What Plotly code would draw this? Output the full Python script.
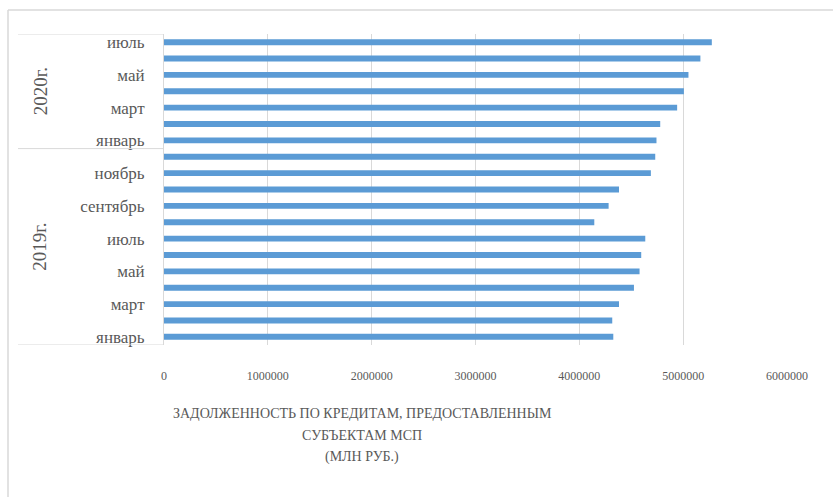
"""
Задолженность по кредитам, предоставленным субъектам МСП, 2019-2020 (млн руб.)
"""
import plotly.graph_objects as go

MONTHS_2019 = ["январь", "февраль", "март", "апрель", "май", "июнь", "июль",
               "август", "сентябрь", "октябрь", "ноябрь", "декабрь"]
MONTHS_2020 = ["январь", "февраль", "март", "апрель", "май", "июнь", "июль"]
YEARS = ["2019г.", "2020г."]

DEBT_2019 = [4327000, 4317000, 4382000, 4526000, 4580000, 4596000, 4635000,
             4144000, 4282000, 4382000, 4689000, 4731000]
DEBT_2020 = [4743000, 4779000, 4942000, 5007000, 5051000, 5166000, 5276000]

X_TICKS = [0, 1000000, 2000000, 3000000, 4000000, 5000000, 6000000]

TITLE_LINES = ["ЗАДОЛЖЕННОСТЬ ПО КРЕДИТАМ, ПРЕДОСТАВЛЕННЫМ", "СУБЪЕКТАМ МСП", "(МЛН РУБ.)"]

TEXT_COLOR = "#595959"
FONT = "Times New Roman, Liberation Serif, serif"

W, H = 833, 497
L, R, T, B = 164, 46, 34, 152
PW, PH = W - L - R, H - T - B


def px_x(p):
    return (p - L) / PW


def px_y(p):
    return (H - B - p) / PH


def build_chart() -> go.Figure:
    months = MONTHS_2019 + MONTHS_2020
    cats = [f"{m} {YEARS[0]}" for m in MONTHS_2019] + [f"{m} {YEARS[1]}" for m in MONTHS_2020]
    values = DEBT_2019 + DEBT_2020

    fig = go.Figure()
    fig.add_trace(go.Bar(
        x=values,
        y=cats,
        orientation="h",
        width=0.36,
        marker=dict(color="#5b9bd5", line=dict(width=0)),
        hovertemplate="%{y}<br>%{x}<extra></extra>",
    ))

    # group dividers on the category axis
    for yv in [-0.5, len(MONTHS_2019) - 0.5, len(cats) - 0.5]:
        fig.add_shape(type="line", xref="paper", yref="y",
                      x0=px_x(18), x1=0, y0=yv, y1=yv,
                      line=dict(color="#d9d9d9", width=1))

    # year labels
    year_pos = [(len(MONTHS_2019) - 1) / 2, len(MONTHS_2019) + (len(MONTHS_2020) - 1) / 2]
    for yr, yp in zip(YEARS, year_pos):
        fig.add_annotation(text=yr, xref="paper", yref="y",
                           x=px_x(40), y=yp, textangle=-90,
                           xanchor="center", yanchor="middle",
                           showarrow=False, font=dict(size=19, color=TEXT_COLOR, family=FONT))

    # chart frame (top and left edges visible)
    fig.add_shape(type="line", xref="paper", yref="paper",
                  x0=px_x(8), x1=px_x(W), y0=px_y(10), y1=px_y(10),
                  line=dict(color="#d9d9d9", width=1.5))
    fig.add_shape(type="line", xref="paper", yref="paper",
                  x0=px_x(8), x1=px_x(8), y0=px_y(10), y1=px_y(H),
                  line=dict(color="#d9d9d9", width=1.5))

    # axis title, one line per annotation to keep Excel-like line spacing
    for i, line in enumerate(TITLE_LINES):
        fig.add_annotation(
            text=line, xref="paper", yref="paper",
            x=px_x(362), y=px_y(413 + 22 * i),
            xanchor="center", yanchor="middle", showarrow=False,
            font=dict(size=14, color=TEXT_COLOR, family=FONT),
        )

    fig.update_layout(
        width=W, height=H,
        margin=dict(l=L, r=R, t=T, b=B),
        plot_bgcolor="white", paper_bgcolor="white",
        showlegend=False,
        font=dict(family=FONT, color=TEXT_COLOR),
        xaxis=dict(range=[0, 6000000], tickvals=X_TICKS, tickformat="d",
                   showgrid=True, gridcolor="#d9d9d9", gridwidth=1,
                   zeroline=False, showline=False, ticks="",
                   ticklabelstandoff=22, automargin=False,
                   tickfont=dict(size=12, color=TEXT_COLOR, family=FONT)),
        yaxis=dict(categoryorder="array", categoryarray=cats,
                   range=[-0.5, len(cats) - 0.5],
                   tickvals=cats[::2], ticktext=months[::2],
                   showline=True, linecolor="#d9d9d9", linewidth=1,
                   showgrid=False, zeroline=False, ticks="",
                   ticklabelstandoff=15, automargin=False,
                   tickfont=dict(size=17, color=TEXT_COLOR, family=FONT)),
    )
    return fig


if __name__ == "__main__":
    fig = build_chart()
    fig.write_html("out.html", config={"displayModeBar": False},
                   post_script="document.body.style.margin='0px';")
